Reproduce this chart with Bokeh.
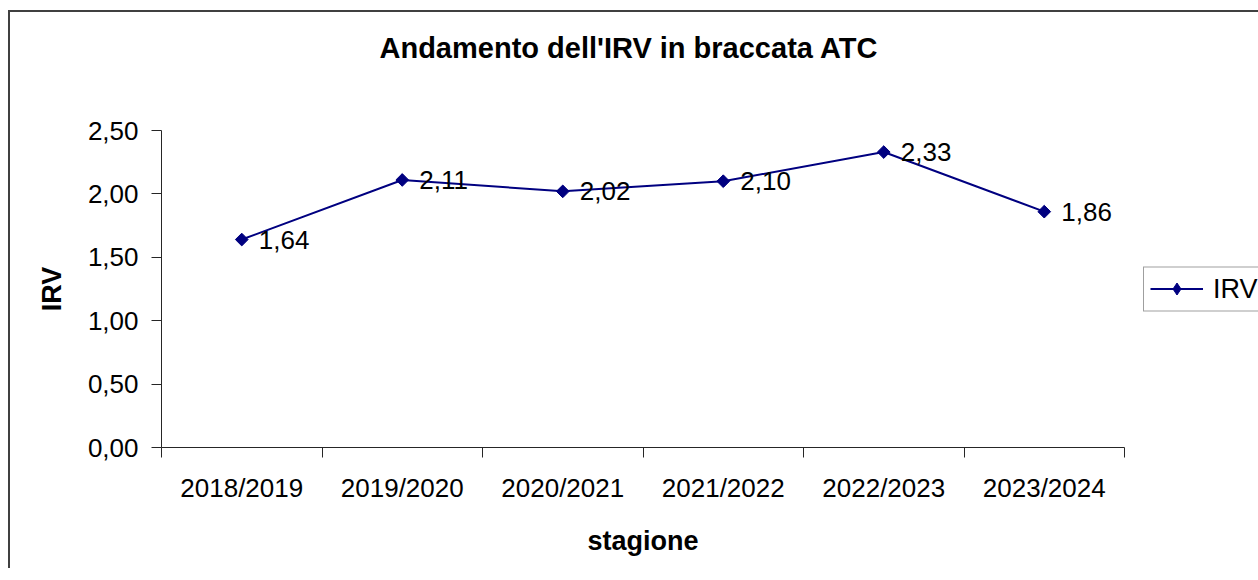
import math
from bokeh.plotting import figure
from bokeh.models import (ColumnDataSource, Range1d, FixedTicker, CustomJSTickFormatter,
                          LabelSet, Legend, LegendItem, Title)
from bokeh.core.properties import value
from bokeh.embed import file_html
from bokeh.resources import INLINE

# ---- data ----
seasons = ["2018/2019", "2019/2020", "2020/2021", "2021/2022", "2022/2023", "2023/2024"]
irv = [1.64, 2.11, 2.02, 2.10, 2.33, 1.86]
y_ticks = [0.0, 0.5, 1.0, 1.5, 2.0, 2.5]
chart_title = "Andamento dell'IRV in braccata ATC"

FONT = "Liberation Sans"
NAVY = "#000080"
AXIS = "#262626"

xs = [i + 0.5 for i in range(len(seasons))]
labels = [f"{v:.2f}".replace(".", ",") for v in irv]
src = ColumnDataSource(dict(x=xs, y=irv, label=labels))

p = figure(frame_width=963, frame_height=317, output_backend="svg", toolbar_location=None,
           x_range=Range1d(0, len(seasons)), y_range=Range1d(0, 2.5),
           min_border_left=151, min_border_top=118, min_border_right=134, min_border_bottom=121,
           styles={"border-left": "2px solid #404040", "border-top": "2px solid #404040",
                   "margin-top": "10px", "margin-left": "8px"})
p.outline_line_color = None
p.xgrid.grid_line_color = None
p.ygrid.grid_line_color = None
p.background_fill_color = "white"
p.border_fill_color = "white"

# default title unused; spacer (added first = nearest the frame), then the real title
p.title.visible = False
p.add_layout(Title(text=".", text_font_size="2px", text_color="white", standoff=62), "above")
p.add_layout(Title(text=chart_title, text_font=FONT, text_font_size="29px",
                   text_font_style="bold", text_color="black", align="left",
                   offset=218, vertical_align="top", standoff=0), "above")

# x axis
xa = p.xaxis[0]
xa.ticker = FixedTicker(ticks=xs, minor_ticks=list(range(len(seasons) + 1)))
xa.formatter = CustomJSTickFormatter(args=dict(labels=seasons),
                                     code="return labels[Math.floor(tick)];")
xa.major_tick_out = 0
xa.major_tick_in = 0
xa.minor_tick_out = 10
xa.minor_tick_in = 0
xa.minor_tick_line_color = AXIS
xa.axis_line_color = AXIS
xa.major_label_standoff = 15
xa.major_label_text_font = FONT
xa.major_label_text_font_size = "26px"
xa.major_label_text_color = "black"
xa.axis_label = "stagione"
xa.axis_label_text_font = FONT
xa.axis_label_text_font_size = "27px"
xa.axis_label_text_font_style = "bold"
xa.axis_label_text_color = "black"
xa.axis_label_standoff = 20

# y axis
ya = p.yaxis[0]
ya.ticker = FixedTicker(ticks=y_ticks, minor_ticks=[])
ya.formatter = CustomJSTickFormatter(code="return tick.toFixed(2).replace('.', ',');")
ya.major_tick_out = 10
ya.major_tick_in = 0
ya.minor_tick_out = 0
ya.minor_tick_in = 0
ya.major_tick_line_color = AXIS
ya.axis_line_color = AXIS
ya.major_label_standoff = 13
ya.major_label_text_font = FONT
ya.major_label_text_font_size = "26px"
ya.major_label_text_color = "black"
ya.axis_label = "IRV"
ya.axis_label_text_font = FONT
ya.axis_label_text_font_size = "27px"
ya.axis_label_text_font_style = "bold"
ya.axis_label_text_color = "black"
ya.axis_label_standoff = 18

# series
ln = p.line("x", "y", source=src, line_color=NAVY, line_width=2)
dm = p.scatter("x", "y", source=src, marker="diamond", size=11,
               fill_color=NAVY, line_color=NAVY, line_width=1)
sc = p.scatter("x", "y", source=src, marker="square", angle=math.pi / 4, size=9,
               fill_color=NAVY, line_color=NAVY)

lbls = LabelSet(x="x", y="y", text="label", source=src, x_offset=17, y_offset=0,
                text_baseline="middle", text_align="left",
                text_font=value(FONT), text_font_size="26px", text_color="black")
p.add_layout(lbls)

legend = Legend(items=[LegendItem(label="IRV", renderers=[ln, dm])],
                location="left", orientation="vertical",
                border_line_color="#404040", border_line_width=1,
                background_fill_color="white", background_fill_alpha=1,
                padding=6, margin=19, spacing=0,
                glyph_width=53, glyph_height=30, label_height=26,
                label_standoff=10, label_text_font=FONT, label_text_font_size="27px",
                label_text_color="black", label_text_baseline="middle")
p.add_layout(legend, "right")

html = file_html(p, INLINE)
html = html.replace("</head>", "<style>html, body { overflow: hidden; }</style></head>", 1)
open("out.html", "w").write(html)
